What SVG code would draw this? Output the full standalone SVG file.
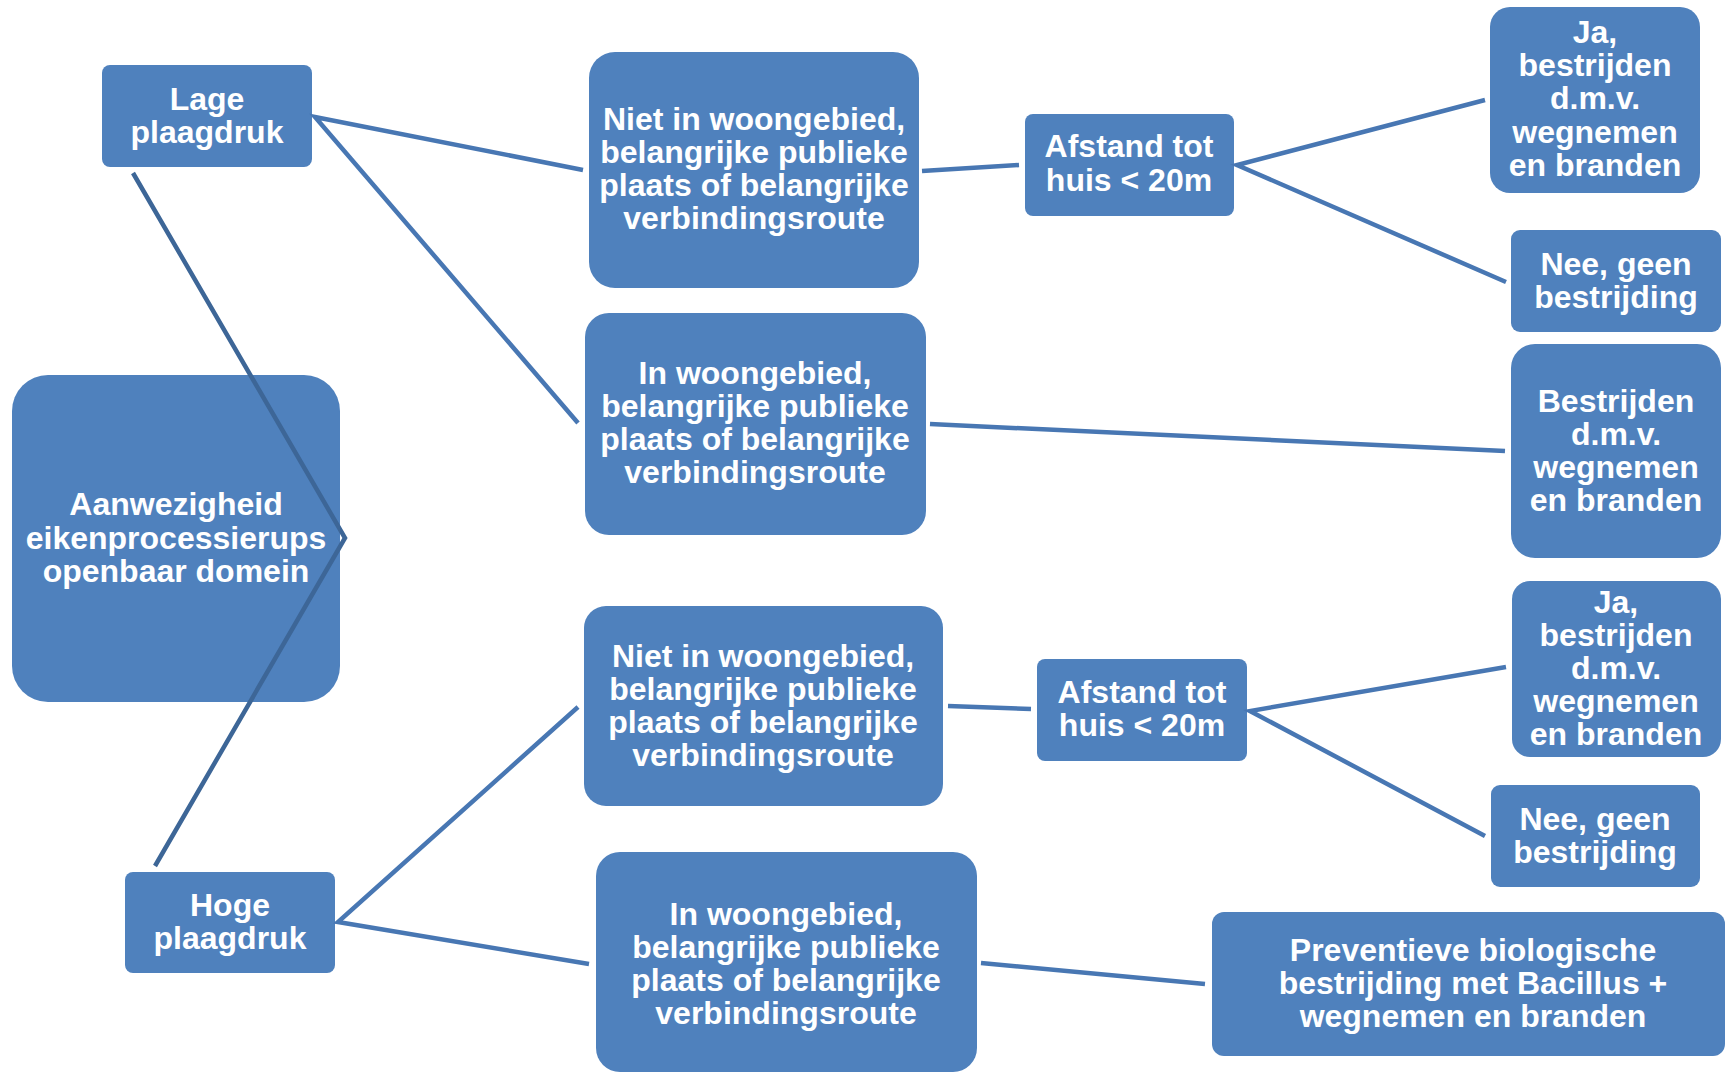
<svg xmlns="http://www.w3.org/2000/svg" width="1726" height="1072" viewBox="0 0 1726 1072">
<style>
.box{fill:#4F81BD;}
.t{font-family:"Liberation Sans",Arial,sans-serif;font-weight:bold;font-size:32px;fill:#FFFFFF;text-anchor:middle;}
.ln{stroke:#4877B3;stroke-width:4.5;fill:none;stroke-linecap:butt;stroke-linejoin:miter;}
.lnd{stroke:#3D6697;stroke-width:4.5;fill:none;stroke-linejoin:miter;}
</style>
<rect width="1726" height="1072" fill="#FFFFFF"/>
<g id="nodes">
<g id="lage"><rect class="box" x="102" y="65" width="210" height="102" rx="8"/>
<text class="t" x="207" y="110">Lage</text><text class="t" x="207" y="143">plaagdruk</text></g>
<g id="center"><rect class="box" x="12" y="375" width="328" height="327" rx="36"/>
<text class="t" x="176" y="515">Aanwezigheid</text><text class="t" x="176" y="549">eikenprocessierups</text><text class="t" x="176" y="582">openbaar domein</text></g>
<g id="hoge"><rect class="box" x="125" y="872" width="210" height="101" rx="8"/>
<text class="t" x="230" y="916">Hoge</text><text class="t" x="230" y="949">plaagdruk</text></g>
<g id="niet1"><rect class="box" x="589" y="52" width="330" height="236" rx="26"/>
<text class="t" x="754" y="130">Niet in woongebied,</text><text class="t" x="754" y="163">belangrijke publieke</text><text class="t" x="754" y="196">plaats of belangrijke</text><text class="t" x="754" y="229">verbindingsroute</text></g>
<g id="in1"><rect class="box" x="585" y="313" width="341" height="222" rx="24"/>
<text class="t" x="755" y="384">In woongebied,</text><text class="t" x="755" y="417">belangrijke publieke</text><text class="t" x="755" y="450">plaats of belangrijke</text><text class="t" x="755" y="483">verbindingsroute</text></g>
<g id="afstand1"><rect class="box" x="1025" y="114" width="209" height="102" rx="8"/>
<text class="t" x="1129" y="157">Afstand tot</text><text class="t" x="1129" y="191">huis &lt; 20m</text></g>
<g id="ja1"><rect class="box" x="1490" y="7" width="210" height="186" rx="20"/>
<text class="t" x="1595" y="43">Ja,</text><text class="t" x="1595" y="76">bestrijden</text><text class="t" x="1595" y="109">d.m.v.</text><text class="t" x="1595" y="143">wegnemen</text><text class="t" x="1595" y="176">en branden</text></g>
<g id="nee1"><rect class="box" x="1511" y="230" width="210" height="102" rx="9"/>
<text class="t" x="1616" y="275">Nee, geen</text><text class="t" x="1616" y="308">bestrijding</text></g>
<g id="bestrijden"><rect class="box" x="1511" y="344" width="210" height="214" rx="24"/>
<text class="t" x="1616" y="412">Bestrijden</text><text class="t" x="1616" y="445">d.m.v.</text><text class="t" x="1616" y="478">wegnemen</text><text class="t" x="1616" y="511">en branden</text></g>
<g id="niet2"><rect class="box" x="584" y="606" width="359" height="200" rx="22"/>
<text class="t" x="763" y="667">Niet in woongebied,</text><text class="t" x="763" y="700">belangrijke publieke</text><text class="t" x="763" y="733">plaats of belangrijke</text><text class="t" x="763" y="766">verbindingsroute</text></g>
<g id="afstand2"><rect class="box" x="1037" y="659" width="210" height="102" rx="8"/>
<text class="t" x="1142" y="703">Afstand tot</text><text class="t" x="1142" y="736">huis &lt; 20m</text></g>
<g id="ja2"><rect class="box" x="1512" y="581" width="209" height="176" rx="18"/>
<text class="t" x="1616" y="613">Ja,</text><text class="t" x="1616" y="646">bestrijden</text><text class="t" x="1616" y="679">d.m.v.</text><text class="t" x="1616" y="712">wegnemen</text><text class="t" x="1616" y="745">en branden</text></g>
<g id="nee2"><rect class="box" x="1491" y="785" width="209" height="102" rx="9"/>
<text class="t" x="1595" y="830">Nee, geen</text><text class="t" x="1595" y="863">bestrijding</text></g>
<g id="in2"><rect class="box" x="596" y="852" width="381" height="220" rx="24"/>
<text class="t" x="786" y="925">In woongebied,</text><text class="t" x="786" y="958">belangrijke publieke</text><text class="t" x="786" y="991">plaats of belangrijke</text><text class="t" x="786" y="1024">verbindingsroute</text></g>
<g id="preventieve"><rect class="box" x="1212" y="912" width="513" height="144" rx="12"/>
<text class="t" x="1473" y="961">Preventieve biologische</text><text class="t" x="1473" y="994">bestrijding met Bacillus +</text><text class="t" x="1473" y="1027">wegnemen en branden</text></g>
</g>
<g id="connectors">
<polyline class="lnd" points="133,173 345,538 155,866"/>
<polyline class="ln" points="583,170 315,117 578,423"/>
<line class="ln" x1="922" y1="171" x2="1019" y2="165"/>
<polyline class="ln" points="1485,100 1237,165 1506,282"/>
<line class="ln" x1="930" y1="424" x2="1505" y2="451"/>
<polyline class="ln" points="578,707 338,922 589,964"/>
<line class="ln" x1="948" y1="706" x2="1031" y2="709"/>
<polyline class="ln" points="1506,667 1250,711 1485,836"/>
<line class="ln" x1="981" y1="963" x2="1205" y2="984"/>
</g>
</svg>
